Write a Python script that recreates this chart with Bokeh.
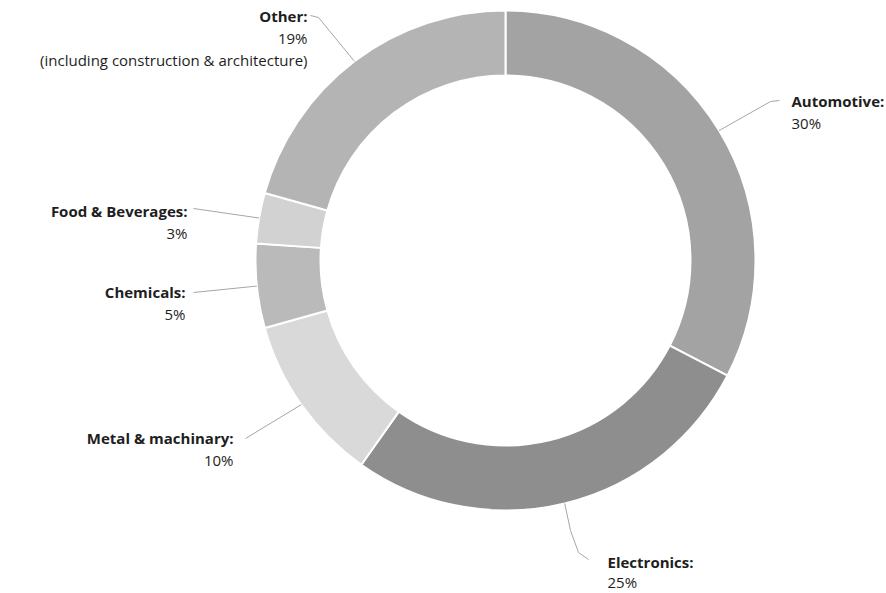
import math
from bokeh.plotting import figure
from bokeh.models import Range1d, ColumnDataSource
from bokeh.core.properties import value
from bokeh.embed import file_html
from bokeh.resources import INLINE

# ---- data ----
categories = ["Automotive", "Electronics", "Metal & machinary", "Chemicals", "Food & Beverages", "Other"]
shares = [30, 25, 10, 5, 3, 19]
notes = ["", "", "", "", "", "(including construction & architecture)"]

# ---- style ----
colors = ["#a3a3a3", "#8e8e8e", "#d9d9d9", "#bababa", "#d2d2d2", "#b4b4b4"]
W, H = 886, 593
CX, CY_PX = 505, 260
R_OUT, R_IN = 250, 185
FONT = "Open Sans"
FS = "15px"
TXT = "#1e1e1e"
LEADER = "#a6a6a6"
LINE_GAP = 22

def Y(py):
    return H - py

# label layout: (anchor x px, first line y px, line gap, align, leader end points in px)
layout = {
    "Automotive": (791, 100, 22, "left", [(770, 101), (779, 100)]),
    "Electronics": (607, 561, 20, "left", [(570, 530), (578, 552), (588, 559)]),
    "Metal & machinary": (233, 437, 22, "right", [(245, 438)]),
    "Chemicals": (185, 291, 22, "right", [(193, 292)]),
    "Food & Beverages": (187, 210, 22, "right", [(193, 208)]),
    "Other": (307, 15, 22, "right", [(318, 17), (310, 15)]),
}

total = float(sum(shares))
starts, ends, mids = [], [], []
cum = 0.0
for v in shares:
    a0 = math.pi / 2 - 2 * math.pi * cum / total
    cum += v
    a1 = math.pi / 2 - 2 * math.pi * cum / total
    starts.append(a1)
    ends.append(a0)
    mids.append((a0 + a1) / 2)

src = ColumnDataSource(dict(cat=categories, share=shares, start=starts, end=ends, color=colors))

p = figure(width=W, height=H, x_range=Range1d(0, W), y_range=Range1d(0, H),
           output_backend="svg", toolbar_location=None, min_border=0,
           background_fill_color="white", border_fill_color="white")
p.axis.visible = False
p.grid.visible = False
p.outline_line_color = None

p.annular_wedge(x=CX, y=Y(CY_PX), inner_radius=R_IN, outer_radius=R_OUT,
                start_angle="start", end_angle="end", fill_color="color",
                line_color="white", line_width=2, source=src)

for cat, v, note, m in zip(categories, shares, notes, mids):
    ax, ay, gap, align, pts = layout[cat]
    sx = CX + R_OUT * math.cos(m)
    sy = Y(CY_PX) + R_OUT * math.sin(m)
    xs = [sx] + [q[0] for q in pts]
    ys = [sy] + [Y(q[1]) for q in pts]
    p.line(xs, ys, line_color=LEADER, line_width=1)
    p.text(x=[ax], y=[Y(ay)], text=[cat + ":"], text_align=align, text_baseline="middle",
           text_font=value(FONT), text_font_size=FS, text_font_style="bold", text_color=TXT)
    p.text(x=[ax], y=[Y(ay + gap)], text=[f"{v}%"], text_align=align, text_baseline="middle",
           text_font=value(FONT), text_font_size=FS, text_color=TXT)
    if note:
        p.text(x=[ax], y=[Y(ay + 2 * gap)], text=[note], text_align=align, text_baseline="middle",
               text_font=value(FONT), text_font_size=FS, text_color=TXT)

open("out.html", "w").write(file_html(p, INLINE))
